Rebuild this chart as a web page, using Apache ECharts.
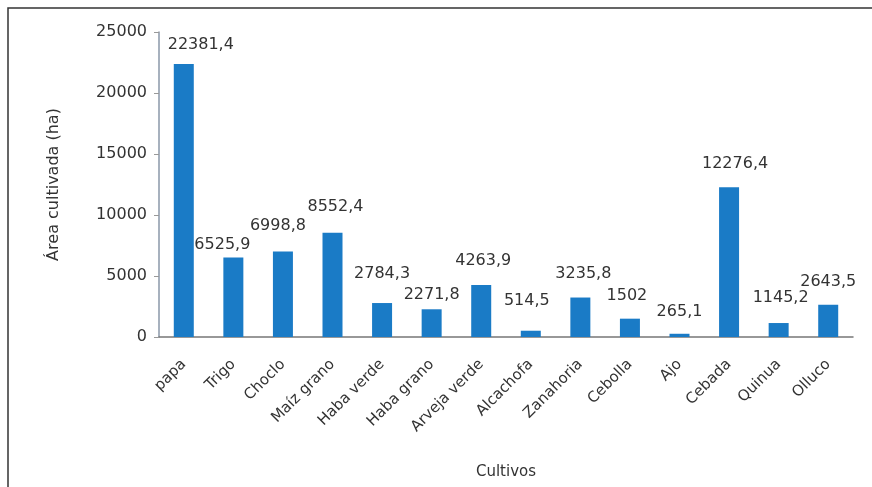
<!DOCTYPE html>
<html>
<head>
<meta charset="utf-8">
<script src="https://cdn.jsdelivr.net/npm/echarts@6/dist/echarts.min.js"></script>
<style>html,body{margin:0;padding:0;background:#fff}#c{width:872px;height:487px}</style>
</head>
<body>
<div id="c"></div>
<script>
const categories = ['papa','Trigo','Choclo','Maíz grano','Haba verde','Haba grano','Arveja verde','Alcachofa','Zanahoria','Cebolla','Ajo','Cebada','Quinua','Olluco'];
const values = [22381.4, 6525.9, 6998.8, 8552.4, 2784.3, 2271.8, 4263.9, 514.5, 3235.8, 1502, 265.1, 12276.4, 1145.2, 2643.5];
const valueLabels = ['22381,4','6525,9','6998,8','8552,4','2784,3','2271,8','4263,9','514,5','3235,8','1502','265,1','12276,4','1145,2','2643,5'];
const yTicks = [0, 5000, 10000, 15000, 20000, 25000];
// label nudges [dx, dy] in pixels, styling only
const labelNudges = [[17,4],[-11,10],[-5,-3],[3,-3],[0,-6],[0,9],[2,-1],[-4,-7],[3,-1],[-3,0],[0,1],[6,0],[2,-2],[0,0]];

const font = '"DejaVu Sans", Verdana, sans-serif';
const chart = echarts.init(document.getElementById('c'), null, {renderer:'canvas'});
chart.setOption({
  animation:false,
  backgroundColor:'#fff',
  graphic:[{type:'rect', shape:{x:8,y:8,width:900,height:600}, style:{fill:'none', stroke:'#333', lineWidth:1.5}, silent:true, z:-1}],
  grid:{left:159, right:19, top:32, bottom:150, containLabel:false},
  xAxis:{
    type:'category', data:categories,
    name:'Cultivos', nameLocation:'middle', nameGap:128,
    nameTextStyle:{fontFamily:font, fontSize:15, color:'#333'},
    axisLine:{lineStyle:{color:'#777', width:1.5}},
    axisTick:{show:false},
    axisLabel:{rotate:45, interval:0, margin:25, fontFamily:font, fontSize:15, color:'#333'}
  },
  yAxis:{
    type:'value', min:0, max:25000, interval:5000,
    name:'Área cultivada (ha)', nameLocation:'middle', nameGap:97,
    nameTextStyle:{fontFamily:font, fontSize:16, color:'#333'},
    axisLine:{show:true, lineStyle:{color:'#8a97a8', width:1.5}},
    axisTick:{show:true, length:5, lineStyle:{color:'#999'}},
    splitLine:{show:false},
    axisLabel:{margin:12, fontFamily:font, fontSize:16, color:'#333',
      formatter:v => yTicks.includes(v) ? String(v) : ''}
  },
  series:[{
    type:'bar', barWidth:20,
    data: values.map((v,i)=>({value:v, label:{offset:labelNudges[i]}})),
    itemStyle:{color:'#1a7bc6'},
    label:{show:true, position:'top', distance:15, fontFamily:font, fontSize:16, color:'#333',
      formatter:p => valueLabels[p.dataIndex]}
  }]
});
</script>
</body>
</html>
